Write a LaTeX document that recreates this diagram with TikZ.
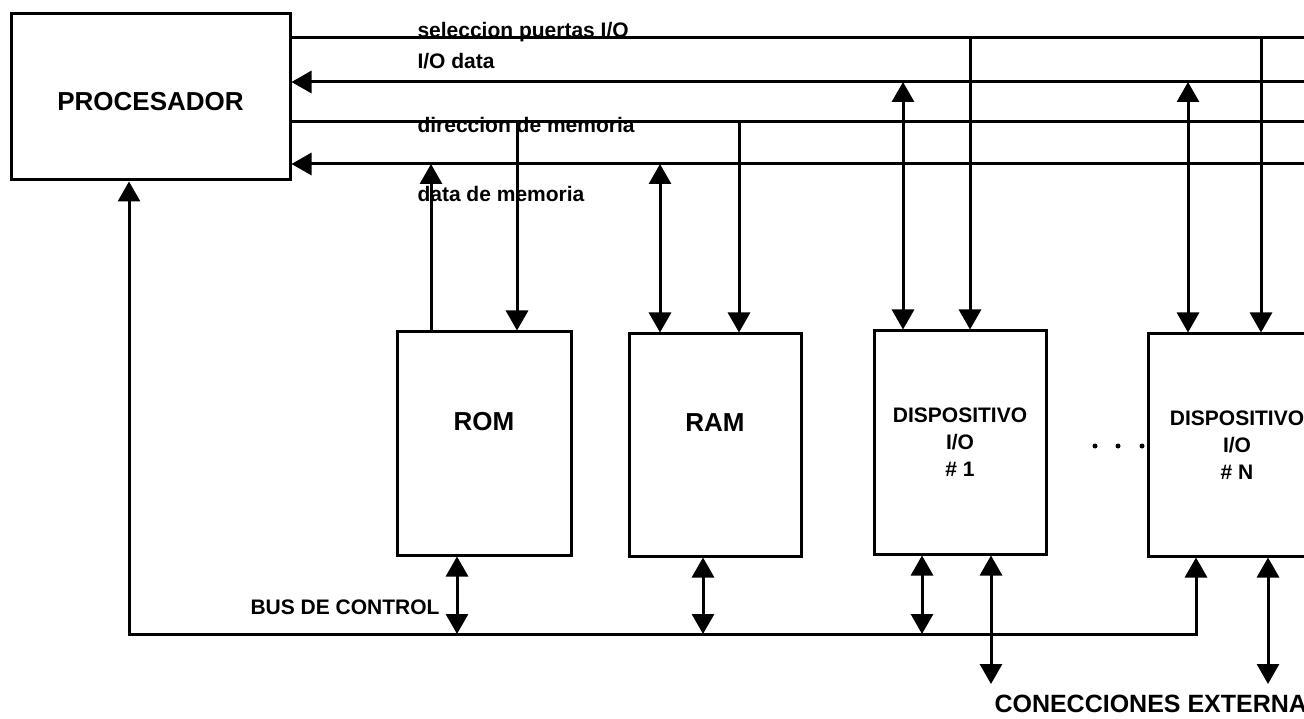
\documentclass[tikz,border=0pt]{standalone}
\usepackage{fontspec}
\setmainfont{Liberation Sans}
\usepackage{tikz}
\usetikzlibrary{arrows.meta}

\begin{document}
\begin{tikzpicture}[x=1pt, y=-1pt, line width=3pt,
    >={Triangle[length=20pt, width=22pt]},
    box/.style={draw, line width=3pt, inner sep=0pt, align=center,
        font=\fontsize{21}{27}\selectfont\bfseries},
    bigbox/.style={box, font=\fontsize{26}{30}\selectfont\bfseries},
    buslbl/.style={inner sep=0pt, anchor=base west,
        font=\fontsize{21}{24}\selectfont\bfseries}]

\useasboundingbox (0,0) rectangle (1304,719);

% draw processor and memory boxes
\node[bigbox, minimum width=279pt, minimum height=166pt] (proc) at (150.5,97) {};
\node[bigbox, draw=none] (proclbl) at ([yshift=-5pt]proc.center) {PROCESADOR};
\node[bigbox, minimum width=174pt, minimum height=223pt] (rom) at (484,443.5) {};
\node[bigbox, minimum width=172pt, minimum height=222pt] (ram) at (715,445) {};
\node[bigbox, draw=none] (romlbl) at ([yshift=22pt]rom.center) {ROM};
\node[bigbox, draw=none] (ramlbl) at ([yshift=22pt]ram.center) {RAM};

% draw the I/O devices
\node[box, minimum width=172pt, minimum height=223pt] (dev1) at (960,442.5) {DISPOSITIVO\\I/O\\\# 1};
\node[box, minimum width=178pt, minimum height=222pt] (devN) at (1237,445) {DISPOSITIVO\\I/O\\\# N};
\foreach \x in {1095,1118,1142}
{
    \fill (\x,446) circle (2.5pt);
}

% draw the four buses (they run off the right edge)
\coordinate (selR) at (1320,38);
\coordinate (iodR) at (1320,82);
\coordinate (dirR) at (1320,122);
\coordinate (datR) at (1320,164);
\draw (proc.east |- selR) -- (selR);
\draw[<-] (proc.east |- iodR) -- (iodR);
\draw (proc.east |- dirR) -- (dirR);
\draw[<-] (proc.east |- datR) -- (datR);

% label the buses
\node[buslbl] (sellbl) at (416,38) {seleccion puertas I/O};
\node[buslbl] (iodlbl) at (416,69) {I/O data};
\node[buslbl] (dirlbl) at (416,133) {direccion de memoria};
\node[buslbl] (datlbl) at (416,202) {data de memoria};

% taps on the buses
\foreach \name/\x/\y in {romIn/431/164, romAd/517/122, ramDt/660/164, ramAd/739/122,
    d1Dt/903/82, d1Sel/970/38, dNDt/1188/82, dNSel/1261/38}
{
    \coordinate (\name) at (\x,\y);
}
\draw[->] (rom.north -| romIn) -- (romIn);
\draw[->] (romAd) -- (rom.north -| romAd);
\draw[<->] (ram.north -| ramDt) -- (ramDt);
\draw[->] (ramAd) -- (ram.north -| ramAd);
\draw[<->] (dev1.north -| d1Dt) -- (d1Dt);
\draw[->] (d1Sel) -- (dev1.north -| d1Sel);
\draw[<->] (devN.north -| dNDt) -- (dNDt);
\draw[->] (dNSel) -- (devN.north -| dNSel);

% draw control bus
\coordinate (ctlL) at (129,634);
\coordinate (ctlR) at (1196,634);
\draw[<->] (proc.south -| ctlL) -- (ctlL) -- (ctlR) -- (devN.south -| ctlR);
\foreach \name/\x in {romCt/457, ramCt/703, d1Ct/922}
{
    \coordinate (\name) at (\x,634);
}
\draw[<->] (rom.south -| romCt) -- (romCt);
\draw[<->] (ram.south -| ramCt) -- (ramCt);
\draw[<->] (dev1.south -| d1Ct) -- (d1Ct);
\node[inner sep=0pt, font=\fontsize{21}{25}\selectfont\bfseries] (ctllbl) at (345,607) {BUS DE CONTROL};

% external connections
\coordinate (d1Ext) at (991,684);
\coordinate (dNExt) at (1268,684);
\draw[<->] (dev1.south -| d1Ext) -- (d1Ext);
\draw[<->] (devN.south -| dNExt) -- (dNExt);
\node[inner sep=0pt, anchor=west, font=\fontsize{25}{30}\selectfont\bfseries] (extlbl) at (993,704) {CONECCIONES EXTERNAS};

\end{tikzpicture}
\end{document}
